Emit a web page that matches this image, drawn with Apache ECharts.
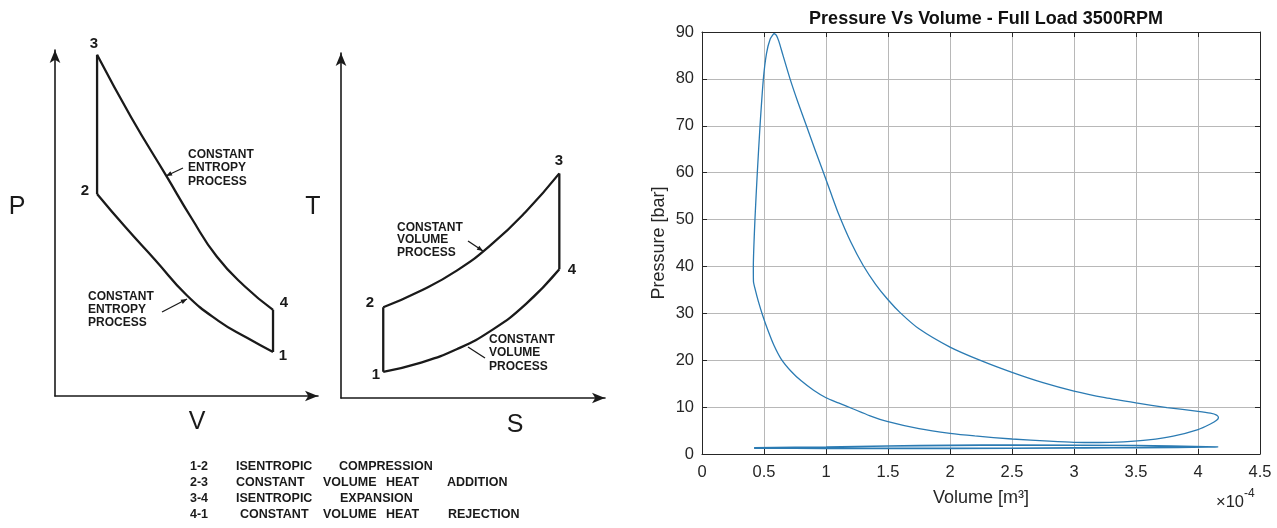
<!DOCTYPE html>
<html>
<head>
<meta charset="utf-8">
<script src="https://cdn.jsdelivr.net/npm/echarts@6/dist/echarts.min.js"></script>
<style>
  html, body { margin: 0; padding: 0; background: #ffffff; }
  #chart { width: 1277px; height: 528px; }
</style>
</head>
<body>
<div id="chart"></div>
<script>
// Ideal Otto cycle schematics (P-V and T-S) next to a measured P-V loop.

// ---- Measured loop: volume in 1e-4 m^3, pressure in bar ----
// closed power loop: peak -> expansion -> blowdown tip -> compression -> combustion rise
const loopVolume = [
  0.58, 0.60, 0.62, 0.65, 0.71, 0.775, 0.845, 0.91, 0.98, 1.04, 1.10, 1.20, 1.30, 1.40, 1.50, 1.60, 1.75, 2.00, 2.25, 2.50, 2.75,
  3.00, 3.25, 3.50, 3.75, 4.00, 4.10, 4.15, 4.165, 4.15, 4.10, 4.00,
  3.80, 3.60, 3.40, 3.20, 3.00, 2.80, 2.50, 2.20, 2.00, 1.75, 1.50, 1.35, 1.22, 1.10, 1.00, 0.90, 0.80, 0.72, 0.64,
  0.58, 0.53, 0.49, 0.455, 0.43, 0.415,
  0.414, 0.427, 0.446, 0.468, 0.495, 0.52, 0.55, 0.58
];
const loopPressure = [
  89.7, 89.3, 88.0, 85.3, 80.0, 74.9, 69.8, 65.0, 60.0, 55.6, 51.3, 45.2, 40.2, 36.2, 32.9, 30.1, 26.7, 22.8, 19.9, 17.4, 15.2,
  13.4, 12.0, 10.9, 9.9, 9.1, 8.7, 8.3, 7.8, 7.2, 6.4, 5.2,
  3.8, 3.0, 2.6, 2.45, 2.5, 2.75, 3.2, 3.85, 4.4, 5.4, 6.9, 8.2, 9.6, 10.9, 12.0, 13.6, 15.6, 17.6, 20.2,
  23.2, 26.5, 29.5, 32.5, 35.0, 36.8,
  40.0, 50.0, 60.0, 70.0, 80.0, 85.4, 88.5, 89.7
];
// low-pressure gas exchange loop (intake / exhaust strokes)
const exchangeVolume = [0.42, 1.0, 2.0, 3.0, 4.16, 4.16, 3.5, 2.5, 2.0, 1.5, 1.0, 0.42];
const exchangePressure = [1.25, 1.2, 1.2, 1.3, 1.5, 1.6, 1.8, 1.9, 1.85, 1.7, 1.5, 1.3];

// ---- Schematic P-V diagram (arbitrary units, 0-100) ----
const pvCompression = [[16, 58.4], [27, 48.6], [38, 39.4], [50, 29.2], [62, 21.8], [73, 16.8], [82.9, 12.7]];
const pvHeatAddition = [[16, 58.4], [16, 98.6]];
const pvExpansion = [[16, 98.6], [29, 80.5], [42.5, 63.4], [52, 51.3], [61.5, 40.3], [72, 31.8], [82.9, 24.9]];
const pvHeatRejection = [[82.9, 24.9], [82.9, 12.7]];

// ---- Schematic T-S diagram (arbitrary units, 0-100) ----
const tsCompression = [[16, 7.6], [16, 26.3]];
const tsHeatAddition = [[16, 26.3], [30, 31.0], [44, 37.0], [57, 44.5], [70, 54.0], [82.7, 65.1]];
const tsExpansion = [[82.7, 65.1], [82.7, 37.3]];
const tsHeatRejection = [[16, 7.6], [30, 10.2], [44, 14.2], [57, 19.6], [70, 27.2], [82.7, 37.3]];

// ---- Text ----
const chartTitle = 'Pressure Vs Volume - Full Load 3500RPM';
const xName = 'Volume [m³]';
const yName = 'Pressure [bar]';
const processRows = [
  ['1-2', 'ISENTROPIC', 'COMPRESSION'],
  ['2-3', 'CONSTANT', 'VOLUME', 'HEAT', 'ADDITION'],
  ['3-4', 'ISENTROPIC', 'EXPANSION'],
  ['4-1', 'CONSTANT', 'VOLUME', 'HEAT', 'REJECTION']
];

const zip = (xs, ys) => xs.map((x, i) => [x, ys[i]]);

const INK = '#1a1a1a';
const SANS = "'Liberation Sans', Arial, sans-serif";
const AXIS_INK = '#262626';

function text(x, y, str, font, align, color) {
  return {
    type: 'text', x: x, y: y, silent: true,
    style: {
      text: str, font: font, fill: color || INK,
      align: align || 'center', verticalAlign: 'middle',
      textAlign: align || 'center', textVerticalAlign: 'middle'
    }
  };
}

// leader line from a note to its curve, optionally with a filled arrowhead
function leader(x1, y1, x2, y2, head) {
  const els = [{
    type: 'line', silent: true,
    shape: { x1: x1, y1: y1, x2: x2, y2: y2 },
    style: { stroke: INK, lineWidth: 1.3 }
  }];
  if (head) {
    const a = Math.atan2(y2 - y1, x2 - x1), L = 6, W = 2.4;
    const bx = x2 - L * Math.cos(a), by = y2 - L * Math.sin(a);
    els.push({
      type: 'polygon', silent: true,
      shape: { points: [[x2, y2], [bx + W * Math.sin(a), by - W * Math.cos(a)], [bx - W * Math.sin(a), by + W * Math.cos(a)]] },
      style: { fill: INK }
    });
  }
  return els;
}

const numFont = 'bold 15px ' + SANS;
const noteFont = 'bold 12px ' + SANS;
const axisLetterFont = '25px ' + SANS;
const rowFont = 'bold 12.5px ' + SANS;

const graphics = [
  // P-V schematic labels
  text(17, 207, 'P', axisLetterFont), text(197, 422, 'V', axisLetterFont),
  text(94, 44, '3', numFont), text(85, 191, '2', numFont),
  text(284, 303, '4', numFont), text(283, 356, '1', numFont),
  text(188, 155, 'CONSTANT', noteFont, 'left'), text(188, 168, 'ENTROPY', noteFont, 'left'), text(188, 182, 'PROCESS', noteFont, 'left'),
  text(88, 297, 'CONSTANT', noteFont, 'left'), text(88, 310, 'ENTROPY', noteFont, 'left'), text(88, 323, 'PROCESS', noteFont, 'left'),
  ...leader(183, 168, 166, 176, true),
  ...leader(162, 312, 187, 299, true),
  // T-S schematic labels
  text(313, 207, 'T', axisLetterFont), text(515, 425, 'S', axisLetterFont),
  text(559, 161, '3', numFont), text(370, 303, '2', numFont),
  text(572, 270, '4', numFont), text(376, 375, '1', numFont),
  text(397, 228, 'CONSTANT', noteFont, 'left'), text(397, 240, 'VOLUME', noteFont, 'left'), text(397, 253, 'PROCESS', noteFont, 'left'),
  text(489, 340, 'CONSTANT', noteFont, 'left'), text(489, 353, 'VOLUME', noteFont, 'left'), text(489, 367, 'PROCESS', noteFont, 'left'),
  ...leader(468, 241, 483, 251, true),
  ...leader(485, 358, 468, 347, false),
  // multiplier of the volume axis
  text(1216, 502, '×10', '16.5px ' + SANS, 'left', AXIS_INK),
  text(1244, 494, '-4', '12px ' + SANS, 'left', AXIS_INK)
];

// process table under the schematics
const rowY = [467, 483, 499, 515];
const colX = [[190, 236, 339], [190, 236, 323, 386, 447], [190, 236, 340], [190, 240, 323, 386, 448]];
processRows.forEach((row, r) => {
  row.forEach((w, c) => graphics.push(text(colX[r][c], rowY[r], w, rowFont, 'left')));
});

function schematicAxis(gridIndex) {
  return {
    gridIndex: gridIndex, type: 'value', min: 0, max: 100,
    axisLine: { show: true, onZero: false, symbol: ['none', 'arrow'], symbolSize: [8, 13], lineStyle: { color: INK, width: 1.6 } },
    axisTick: { show: false }, axisLabel: { show: false }, splitLine: { show: false }
  };
}

function schematicSeries(data, gi, smooth) {
  return {
    type: 'line', xAxisIndex: gi, yAxisIndex: gi, data: data, smooth: smooth,
    showSymbol: false, silent: true,
    lineStyle: { color: INK, width: 2.3 }
  };
}

const boxAxis = {
  axisLine: { show: true, onZero: false, lineStyle: { color: AXIS_INK, width: 1 } },
  axisTick: { show: true, inside: true, length: 5, lineStyle: { color: AXIS_INK } },
  axisLabel: { show: false },
  splitLine: { show: false }
};

const loopColor = '#2b7bb3';
const gridColor = '#b8b8b8';

const option = {
  animation: false,
  backgroundColor: '#ffffff',
  title: {
    text: chartTitle, left: 981, top: 5, textAlign: 'center',
    textStyle: { fontFamily: SANS, fontSize: 18, fontWeight: 'bold', color: '#111' }
  },
  grid: [
    { left: 702, right: 17, top: 32, bottom: 74 },
    { left: 55, top: 50, width: 263, height: 346 },
    { left: 341, top: 53, width: 264, height: 345 }
  ],
  xAxis: [
    {
      gridIndex: 0, type: 'value', min: 0, max: 4.5, interval: 0.5,
      name: xName, nameLocation: 'middle', nameGap: 35,
      nameTextStyle: { fontFamily: SANS, fontSize: 18, color: AXIS_INK },
      axisLine: { show: true, onZero: false, lineStyle: { color: AXIS_INK, width: 1 } },
      axisTick: { show: true, inside: true, length: 5, lineStyle: { color: AXIS_INK } },
      axisLabel: { fontFamily: SANS, fontSize: 16.5, color: AXIS_INK, margin: 10 },
      splitLine: { show: true, lineStyle: { color: gridColor, width: 1 } }
    },
    Object.assign({ gridIndex: 0, type: 'value', position: 'top', min: 0, max: 4.5, interval: 0.5 }, boxAxis),
    schematicAxis(1),
    schematicAxis(2)
  ],
  yAxis: [
    {
      gridIndex: 0, type: 'value', min: 0, max: 90, interval: 10,
      name: yName, nameLocation: 'middle', nameGap: 34,
      nameTextStyle: { fontFamily: SANS, fontSize: 18, color: AXIS_INK },
      axisLine: { show: true, onZero: false, lineStyle: { color: AXIS_INK, width: 1 } },
      axisTick: { show: true, inside: true, length: 5, lineStyle: { color: AXIS_INK } },
      axisLabel: { fontFamily: SANS, fontSize: 16.5, color: AXIS_INK, margin: 8 },
      splitLine: { show: true, lineStyle: { color: gridColor, width: 1 } }
    },
    Object.assign({ gridIndex: 0, type: 'value', position: 'right', min: 0, max: 90, interval: 10 }, boxAxis),
    schematicAxis(1),
    schematicAxis(2)
  ],
  series: [
    {
      name: 'Power loop', type: 'line', xAxisIndex: 0, yAxisIndex: 0,
      data: zip(loopVolume, loopPressure), smooth: 0.2, showSymbol: false,
      lineStyle: { color: loopColor, width: 1.3 }
    },
    {
      name: 'Gas exchange', type: 'line', xAxisIndex: 0, yAxisIndex: 0,
      data: zip(exchangeVolume, exchangePressure), smooth: 0.3, showSymbol: false,
      lineStyle: { color: loopColor, width: 1.6 }
    },
    schematicSeries(pvCompression, 2, 0.5),
    schematicSeries(pvHeatAddition, 2, false),
    schematicSeries(pvExpansion, 2, 0.5),
    schematicSeries(pvHeatRejection, 2, false),
    schematicSeries(tsCompression, 3, false),
    schematicSeries(tsHeatAddition, 3, 0.5),
    schematicSeries(tsExpansion, 3, false),
    schematicSeries(tsHeatRejection, 3, 0.5)
  ],
  graphic: { elements: graphics }
};

const chart = echarts.init(document.getElementById('chart'), null, { renderer: 'canvas' });
chart.setOption(option);
</script>
</body>
</html>
